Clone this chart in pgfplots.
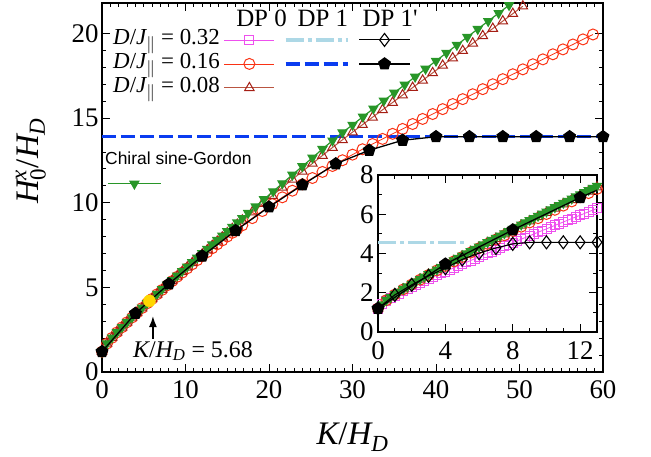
\documentclass[border=0pt]{standalone}
\usepackage{amsmath}
\usepackage{fontspec}
\setmainfont{Liberation Serif}
\newfontfamily\sansf{Liberation Sans}
\usepackage{pgfplots}
\pgfplotsset{compat=1.18}
\usetikzlibrary{arrows.meta}
\definecolor{cMag}{RGB}{238,80,238}
\definecolor{cRed}{RGB}{250,50,20}
\definecolor{cBrownM}{RGB}{165,30,20}
\definecolor{cBrownL}{RGB}{185,85,65}
\definecolor{cGreen}{RGB}{40,150,40}
\definecolor{cLBlue}{RGB}{173,216,230}
\definecolor{cBlue}{RGB}{10,60,240}
\definecolor{cGold}{RGB}{255,215,0}
\pgfplotsset{
 sMag/.style={cMag, line width=0.8bp, mark=square, mark size=4.5bp, mark options={solid,line width=0.9bp}},
 sRed/.style={cRed, line width=0.8bp, mark=o, mark size=5.5bp, mark options={solid,line width=1bp}},
 sBrown/.style={cBrownL, line width=1bp, mark=triangle, mark size=5.5bp, mark options={solid,draw=cBrownM,line width=1bp}},
 sGreen/.style={cGreen, line width=1.2bp, mark=triangle*, mark size=5bp, mark options={solid,rotate=180, fill=cGreen, draw=cGreen}},
 sLB/.style={cLBlue, line width=3.5bp, dash pattern=on 18bp off 4bp on 4bp off 4bp},
 sBlue/.style={cBlue, line width=3.5bp, dash pattern=on 14bp off 5bp},
 sDia/.style={black, line width=1.1bp, mark=diamond, mark size=6.5bp, mark options={solid,fill=white}},
 sPent/.style={black, line width=1.3bp, mark=pentagon*, mark size=6bp, mark options={solid}},
 sampA/.style={legend image code/.code={\draw[mark repeat=2,mark phase=2,##1] plot coordinates {(0bp,0bp)(25bp,0bp)(50bp,0bp)};}},
 sampB/.style={legend image code/.code={\draw[##1] (0bp,0bp) -- (62bp,0bp);}},
 sampC/.style={legend image code/.code={\draw[mark repeat=2,mark phase=2,##1] plot coordinates {(0bp,0bp)(25.5bp,0bp)(51bp,0bp)};}},
 sampD/.style={legend image code/.code={\draw[mark repeat=2,mark phase=2,##1] plot coordinates {(0bp,0bp)(26.5bp,0bp)(53bp,0bp)};}},
}
\pgfplotstableread{
x y
0 1.2
0.6 1.689
1.2 2.03
1.8 2.343
2.4 2.645
3.0 2.939
3.6 3.226
4.2 3.51
4.8 3.79
5.4 4.068
6.0 4.342
6.6 4.615
7.2 4.886
7.8 5.156
8.4 5.424
9.0 5.691
9.6 5.956
10.2 6.222
10.8 6.485
11.4 6.749
12.0 7.011
12.6 7.272
13.2 7.534
13.8 7.794
14.4 8.054
15.0 8.313
15.6 8.571
16.2 8.83
16.8 9.088
17.5 9.39
18.4 9.774
19.4 10.2
20.5 10.67
21.6 11.14
22.8 11.65
24 12.15
25.2 12.66
26.4 13.17
27.6 13.67
28.8 14.15
30 14.6
31.25 15.08
32.5 15.56
33.75 16.03
35 16.5
36.25 16.97
37.5 17.44
38.75 17.91
40 18.38
41.25 18.85
42.5 19.32
43.75 19.79
45 20.26
46.25 20.73
47.5 21.2
48.75 21.67
}\greenmain
\pgfplotstableread{
x y
0 1.2
0.6 1.68
1.2 2.02
1.8 2.34
2.4 2.64
3.0 2.935
3.6 3.22
4.2 3.505
4.8 3.78
5.4 4.055
6 4.32
6.6 4.59
7.2 4.85
7.8 5.115
8.4 5.37
9.0 5.625
9.6 5.87
10.2 6.12
10.8 6.36
11.4 6.605
12 6.84
12.6 7.08
13.2 7.31
13.8 7.545
14.4 7.77
15.0 8.0
15.6 8.22
16.2 8.445
16.8 8.66
18 9.09
19.2 9.51
20.4 9.92
21.6 10.32
22.8 10.71
24 11.09
25.2 11.46
26.4 11.82
27.6 12.17
28.8 12.51
30 12.84
31.2 13.16
32.4 13.47
33.6 13.77
34.8 14.07
36 14.36
37.2 14.65
38.4 14.95
39.6 15.24
40.8 15.53
42 15.83
43.2 16.12
44.4 16.41
45.6 16.71
46.8 17.0
48 17.3
49.2 17.59
50.4 17.88
51.6 18.18
52.8 18.47
54 18.77
55.2 19.06
56.4 19.35
57.6 19.65
58.8 19.94
}\redmain
\pgfplotstableread{
x y
0 1.2
0.6 1.685
1.2 2.03
1.8 2.34
2.4 2.64
3.0 2.935
3.6 3.22
4.2 3.5
4.8 3.77
5.4 4.05
6 4.32
6.6 4.59
7.2 4.86
7.8 5.125
8.4 5.39
9.0 5.655
9.6 5.92
10.2 6.18
10.8 6.44
11.4 6.695
12 6.95
12.6 7.205
13.2 7.46
13.8 7.71
14.4 7.96
15.0 8.21
15.6 8.46
16.2 8.71
16.8 8.96
18 9.45
19.2 9.94
20.4 10.42
21.6 10.9
22.8 11.38
24 11.85
25.2 12.32
26.4 12.79
27.6 13.26
28.8 13.72
30 14.17
31.2 14.61
32.4 15.05
33.6 15.49
34.8 15.92
36 16.36
37.2 16.8
38.4 17.23
39.6 17.67
40.8 18.11
42 18.55
43.2 18.98
44.4 19.42
45.6 19.86
46.8 20.29
48 20.73
49.2 21.17
50.4 21.61
}\brownmain
\pgfplotstableread{
x y
0 1.2
4 3.46
8 5.2
12 6.85
16 8.35
20 9.75
24 11.05
28 12.3
32 13.1
36 13.69
40 13.9
44 13.9
48 13.9
52 13.9
56 13.9
60 13.9
}\pentmain
\pgfplotstableread{
x y
0 1.2
0.25 1.4
0.5 1.628
0.75 1.78
1 1.919
1.25 2.055
1.5 2.188
1.75 2.317
2 2.445
2.25 2.57
2.5 2.695
2.75 2.817
3 2.939
3.25 3.059
3.5 3.179
3.75 3.298
4 3.416
4.25 3.534
4.5 3.651
4.75 3.767
5 3.883
5.25 3.999
5.5 4.114
5.75 4.228
6 4.342
6.25 4.456
6.5 4.57
6.75 4.683
7 4.796
7.25 4.909
7.5 5.022
7.75 5.133
8 5.245
8.25 5.357
8.5 5.469
8.75 5.58
9 5.691
9.25 5.802
9.5 5.913
9.75 6.023
10 6.134
10.25 6.244
10.5 6.354
10.75 6.464
11 6.573
11.25 6.683
11.5 6.793
11.75 6.902
12 7.011
12.25 7.12
12.5 7.23
12.75 7.338
13 7.447
}\greenin
\pgfplotstableread{
x y
0 1.2
0.5 1.622
1 1.907
1.5 2.17
2 2.421
2.5 2.665
3 2.903
3.5 3.137
4 3.368
4.5 3.597
5 3.823
5.5 4.048
6 4.27
6.5 4.492
7 4.712
7.5 4.932
8 5.149
8.5 5.367
9 5.583
9.5 5.799
10 6.014
10.5 6.228
11 6.441
11.5 6.655
12 6.867
12.5 7.08
13 7.291
}\redin
\pgfplotstableread{
x y
0 1.2
0.5 1.625
1 1.914
1.5 2.18
2 2.435
2.5 2.683
3 2.924
3.5 3.162
4 3.396
4.5 3.629
5 3.858
5.5 4.087
6 4.312
6.5 4.538
7 4.761
7.5 4.985
8 5.205
8.5 5.427
9 5.646
9.5 5.866
10 6.084
10.5 6.302
11 6.518
11.5 6.736
12 6.951
12.5 7.168
13 7.382
}\brownin
\pgfplotstableread{
x y
0 1.2
0.25 1.449
0.5 1.595
0.75 1.724
1 1.845
1.25 1.96
1.5 2.072
1.75 2.179
2 2.285
2.25 2.389
2.5 2.491
2.75 2.591
3 2.691
3.25 2.79
3.5 2.888
3.75 2.984
4 3.08
4.25 3.176
4.5 3.27
4.75 3.364
5 3.458
5.25 3.551
5.5 3.644
5.75 3.735
6 3.827
6.25 3.919
6.5 4.01
6.75 4.1
7 4.191
7.25 4.281
7.5 4.372
7.75 4.46
8 4.55
8.25 4.639
8.5 4.728
8.75 4.816
9 4.905
9.25 4.993
9.5 5.082
9.75 5.169
10 5.257
10.25 5.345
10.5 5.432
10.75 5.519
11 5.606
11.25 5.693
11.5 5.78
11.75 5.866
12 5.952
12.25 6.039
12.5 6.126
12.75 6.211
13 6.297
}\magin
\pgfplotstableread{
x y
0 1.2
1 1.89
2 2.4
3 2.86
4 3.25
5 3.7
6 4.02
7 4.28
8 4.49
9 4.57
10 4.57
11 4.57
12 4.57
13 4.57
}\diain
\begin{document}
\begin{tikzpicture}
\begin{axis}[name=main, at={(0,0)}, anchor=south west, scale only axis,
 width=501bp, height=369bp, xmin=0, xmax=60, ymin=0, ymax=21.8,
 xtick={0,10,...,60}, ytick={0,5,...,20}, minor x tick num=9, minor y tick num=4,
 tick align=inside, major tick length=8bp, minor tick length=4bp,
 every tick/.style={black, line width=0.9bp},
 axis line style={line width=1.2bp},
 clip mode=individual,
 /pgf/number format/assume math mode=true,
 tick label style={font=\fontsize{27}{27}\selectfont},
 xticklabel style={yshift=-5bp},
 xlabel={$\textit{K}\text{/}\textit{H}_{\textit{D}}$},
 ylabel={$\textit{H}^{\textit{x}}_{\text{0}}\text{/}\textit{H}_{\textit{D}}$},
 label style={font=\fontsize{33}{33}\selectfont},
 xlabel style={at={(axis description cs:0.5,-0.176)}, anchor=center},
 ylabel style={at={(axis description cs:-0.142,0.572)}, anchor=center},
 legend plot pos=right, legend cell align=right, legend columns=3,
 legend style={draw=none, fill=none, at={(axis description cs:0.022,0.933)}, anchor=north west,
   inner sep=0pt, row sep=0bp, column sep=4bp, font=\fontsize{23}{23}\selectfont,
   nodes={inner sep=0bp, text height=17bp, text depth=7bp}},
]
\addplot[sBlue, forget plot] coordinates {(0,13.9) (60,13.9)};
\addplot[sRed, forget plot] table {\redmain};
\addplot[sBrown, forget plot] table {\brownmain};
\addplot[sGreen, forget plot] table {\greenmain};
\addplot[sPent, forget plot] table {\pentmain};
\addplot[only marks, mark=*, mark size=6bp, mark options={draw=cGold, fill=cGold}, forget plot] coordinates {(5.68,4.2)};
\addlegendimage{sMag, sampA}
\addlegendentry{$\textit{D}\text{/}\textit{J}_{\parallel}$ = 0.32\hspace{3bp}}
\addlegendimage{sLB, sampB}
\addlegendentry{}
\addlegendimage{sDia, sampC}
\addlegendentry{}
\addlegendimage{sRed, sampA}
\addlegendentry{$\textit{D}\text{/}\textit{J}_{\parallel}$ = 0.16\hspace{3bp}}
\addlegendimage{sBlue, sampB}
\addlegendentry{}
\addlegendimage{sPent, sampC}
\addlegendentry{}
\addlegendimage{sBrown, sampA}
\addlegendentry{$\textit{D}\text{/}\textit{J}_{\parallel}$ = 0.08\hspace{3bp}}
\node[anchor=base, font=\fontsize{25}{25}\selectfont] at (axis description cs:0.3184,0.935) {DP 0};
\node[anchor=base, font=\fontsize{25}{25}\selectfont] at (axis description cs:0.441,0.935) {DP 1};
\node[anchor=base, font=\fontsize{25}{25}\selectfont] at (axis description cs:0.575,0.935) {DP 1\textquotesingle};
\node[anchor=west, inner sep=0pt, font=\sansf\fontsize{17.5}{17.5}\selectfont] at (axis description cs:0.006,0.578) {Chiral sine-Gordon};
\draw[line width=1.3bp, -{Latex[length=11bp,width=8bp]}] (axis cs:6.1,1.95) -- (axis cs:6.1,3.3);
\node[anchor=base west, inner sep=0pt, font=\fontsize{24}{24}\selectfont] at (axis cs:3.7,0.88) {$\textit{K}\text{/}\textit{H}_{\textit{D}}$ = 5.68};
\end{axis}
\begin{axis}[name=inset, at={(276bp,40bp)}, anchor=south west, scale only axis,
 width=219bp, height=157bp, xmin=0, xmax=13, ymin=0, ymax=8,
 xtick={0,4,8,12}, ytick={0,2,4,6,8}, minor x tick num=3, minor y tick num=1,
 tick align=inside, major tick length=8bp, minor tick length=4bp,
 every tick/.style={black, line width=0.9bp},
 axis line style={line width=1.2bp},
 axis background/.style={fill=white},
 clip mode=individual,
 /pgf/number format/assume math mode=true,
 tick label style={font=\fontsize{27}{27}\selectfont},
 xticklabel style={yshift=-6bp},
 yticklabel style={xshift=-1bp},
 legend style={draw=none, fill=none, at={(axis description cs:-1.237,0.936)}, anchor=west,
   inner sep=0pt, nodes={inner sep=0bp}},
]
\addplot[sLB, forget plot] coordinates {(0,4.57) (5.3,4.57)};
\addplot[sMag, forget plot] table {\magin};
\addplot[sRed, forget plot] table {\redin};
\addplot[sBrown, forget plot] table {\brownin};
\addplot[sGreen, forget plot] table {\greenin};
\addplot[black, line width=1.3bp, forget plot] coordinates {(12,6.85) (16,8.35)};
\addplot[sPent, forget plot] coordinates {(0,1.2) (4,3.46) (8,5.2) (12,6.85)};
\addplot[sDia, forget plot] table {\diain};
\addlegendimage{sGreen, sampD}
\addlegendentry{}
\end{axis}
\path[use as bounding box] (-102bp,-85bp) rectangle (549bp,372bp);
\end{tikzpicture}
\end{document}
